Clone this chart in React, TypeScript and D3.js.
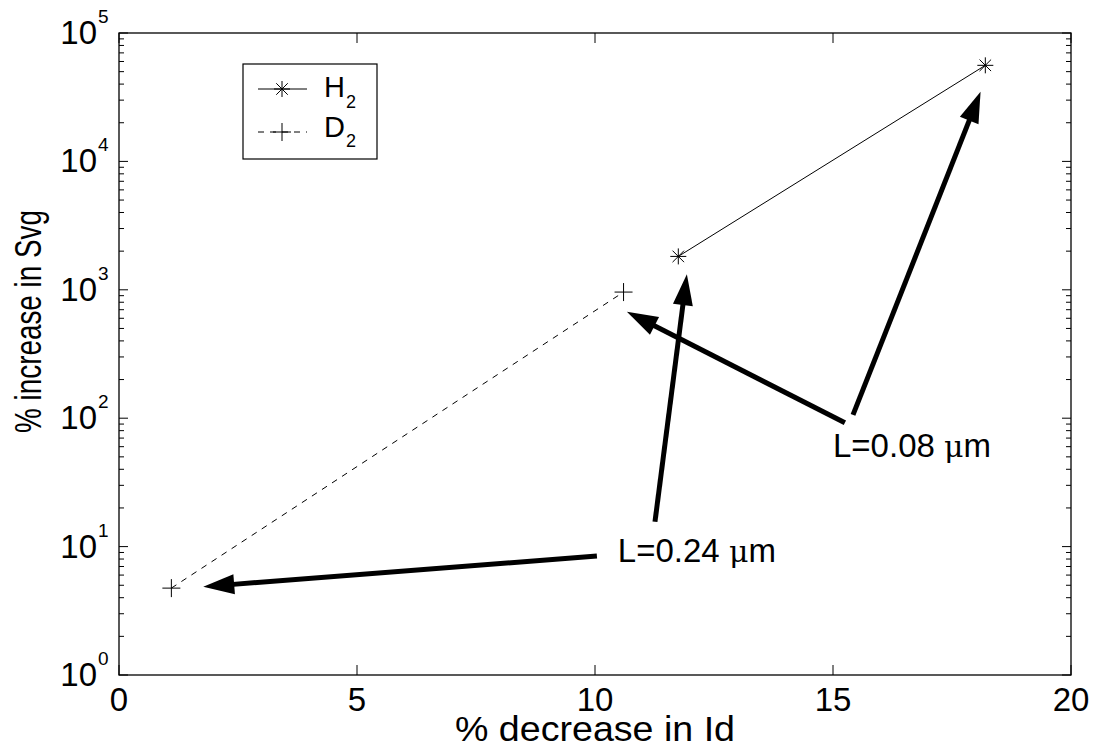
import React from "react";
import * as d3 from "d3";

const h2X = [11.75, 18.2];
const h2Y = [1820, 56000];
const d2X = [1.1, 10.6];
const d2Y = [4.75, 960];
const xTicks = [0, 5, 10, 15, 20];
const yDecades = [0, 1, 2, 3, 4, 5];
const seriesNames = ["H", "D"];

// annotation arrows: [tailX, tailY, tipX, tipY] in data units
const arrows08 = [
  [15.42, 106, 18.1, 34900],
  [15.25, 92, 10.67, 675],
];
const arrows24 = [
  [11.26, 15.6, 11.93, 1321],
  [10.04, 8.45, 1.77, 4.87],
];
const labels = [
  { text: "L=0.08 ", mu: "μm", x: 15.0, y: 50 },
  { text: "L=0.24 ", mu: "μm", x: 10.48, y: 7.6 },
];

const W = 1103;
const H = 748;
const L = 119, R = 1071, T = 33, B = 675;

export default function App() {
  const x = d3.scaleLinear().domain([0, 20]).range([L, R]);
  const y = d3.scaleLog().domain([1, 1e5]).range([B, T]);
  const line = d3.line<number>();

  const minor: number[] = [];
  for (let d = 0; d < 5; d++) for (let k = 2; k <= 9; k++) minor.push(k * Math.pow(10, d));

  const star = (cx: number, cy: number, r = 8, key?: string) => {
    const rd = r * 0.72;
    return (
      <g key={key} stroke="#000" strokeWidth={1}>
        <line x1={cx - r} y1={cy} x2={cx + r} y2={cy} />
        <line x1={cx} y1={cy - r} x2={cx} y2={cy + r} />
        <line x1={cx - rd} y1={cy - rd} x2={cx + rd} y2={cy + rd} />
        <line x1={cx - rd} y1={cy + rd} x2={cx + rd} y2={cy - rd} />
      </g>
    );
  };
  const plus = (cx: number, cy: number, r = 9, key?: string) => (
    <g key={key} stroke="#000" strokeWidth={1}>
      <line x1={cx - r} y1={cy} x2={cx + r} y2={cy} />
      <line x1={cx} y1={cy - r} x2={cx} y2={cy + r} />
    </g>
  );

  const arrow = (a: number[], key: string) => {
    const x0 = x(a[0]), y0 = y(a[1]), x1 = x(a[2]), y1 = y(a[3]);
    const dx = x1 - x0, dy = y1 - y0;
    const len = Math.hypot(dx, dy);
    const ux = dx / len, uy = dy / len;
    const hl = 31, hw = 10;
    const bx = x1 - ux * hl, by = y1 - uy * hl;
    const px = -uy, py = ux;
    const pts = [
      [x1, y1],
      [bx + px * hw, by + py * hw],
      [bx - px * hw, by - py * hw],
    ];
    return (
      <g key={key}>
        <line x1={x0} y1={y0} x2={bx + ux * 4} y2={by + uy * 4} stroke="#000" strokeWidth={5} />
        <polygon points={pts.map((p) => p.join(",")).join(" ")} fill="#000" />
      </g>
    );
  };

  const h2Pts = h2X.map((v, i) => [x(v), y(h2Y[i])] as [number, number]);
  const d2Pts = d2X.map((v, i) => [x(v), y(d2Y[i])] as [number, number]);

  return (
    <svg
      width={W}
      height={H}
      style={{ position: "absolute", left: 0, top: 0, background: "#fff" }}
      fontFamily="'Liberation Sans', Arial, sans-serif"
    >
      <rect x={0} y={0} width={W} height={H} fill="#fff" />
      {/* data lines */}
      <path d={line(h2Pts) || ""} fill="none" stroke="#000" strokeWidth={1} />
      <path d={line(d2Pts) || ""} fill="none" stroke="#000" strokeWidth={1} strokeDasharray="6,6" />
      {h2Pts.map((p, i) => star(p[0], p[1], 8, "s" + i))}
      {d2Pts.map((p, i) => plus(p[0], p[1], 9, "p" + i))}

      {/* axes box */}
      <rect x={L} y={T} width={R - L} height={B - T} fill="none" stroke="#000" strokeWidth={1.3} />
      {/* x ticks */}
      {xTicks.map((t) => (
        <g key={"xt" + t}>
          <line x1={x(t)} y1={B} x2={x(t)} y2={B - 10} stroke="#000" strokeWidth={1} />
          <line x1={x(t)} y1={T} x2={x(t)} y2={T + 10} stroke="#000" strokeWidth={1} />
          <text x={x(t)} y={711} fontSize={33} textAnchor="middle" fill="#000">
            {t}
          </text>
        </g>
      ))}
      {/* y ticks */}
      {yDecades.map((d) => {
        const yy = y(Math.pow(10, d));
        return (
          <g key={"yt" + d}>
            <line x1={L} y1={yy} x2={L + 9} y2={yy} stroke="#000" strokeWidth={1} />
            <line x1={R} y1={yy} x2={R - 9} y2={yy} stroke="#000" strokeWidth={1} />
            <text x={97} y={yy + 11} fontSize={33} textAnchor="end" fill="#000">
              10
            </text>
            <text x={98} y={yy - 10} fontSize={19} fill="#000">
              {d}
            </text>
          </g>
        );
      })}
      {minor.map((v) => (
        <g key={"mn" + v}>
          <line x1={L} y1={y(v)} x2={L + 5} y2={y(v)} stroke="#000" strokeWidth={1} />
          <line x1={R} y1={y(v)} x2={R - 5} y2={y(v)} stroke="#000" strokeWidth={1} />
        </g>
      ))}

      {/* axis labels */}
      <text x={455} y={741} fontSize={35} textLength={280} lengthAdjust="spacingAndGlyphs" fill="#000">
        % decrease in Id
      </text>
      <text
        transform="translate(41,433) rotate(-90)"
        x={0}
        y={0}
        fontSize={36}
        textLength={223}
        lengthAdjust="spacingAndGlyphs"
        fill="#000"
      >
        % increase in Svg
      </text>

      {/* legend */}
      <rect x={243} y={64} width={134} height={95} fill="#fff" stroke="#000" strokeWidth={1.2} />
      <line x1={258} y1={89} x2={307} y2={89} stroke="#000" strokeWidth={1} />
      {star(282, 89, 8)}
      <line x1={258} y1={132} x2={307} y2={132} stroke="#000" strokeWidth={1} strokeDasharray="6,6" />
      {plus(282, 132, 9)}
      {seriesNames.map((n, i) => (
        <g key={"lg" + n}>
          <text x={324} y={97 + i * 40} fontSize={29} fill="#000">
            {n}
          </text>
          <text x={346} y={108 + i * 39} fontSize={18} fill="#000">
            2
          </text>
        </g>
      ))}

      {/* annotations */}
      {arrows08.map((a, i) => arrow(a, "a8" + i))}
      {arrows24.map((a, i) => arrow(a, "a2" + i))}
      {labels.map((l, i) => (
        <text key={"lb" + i} x={x(l.x)} y={y(l.y)} fontSize={33} fill="#000">
          {l.text}
          <tspan fontFamily="'DejaVu Serif', serif" fontSize={30}>μ</tspan>
          m
        </text>
      ))}
    </svg>
  );
}
